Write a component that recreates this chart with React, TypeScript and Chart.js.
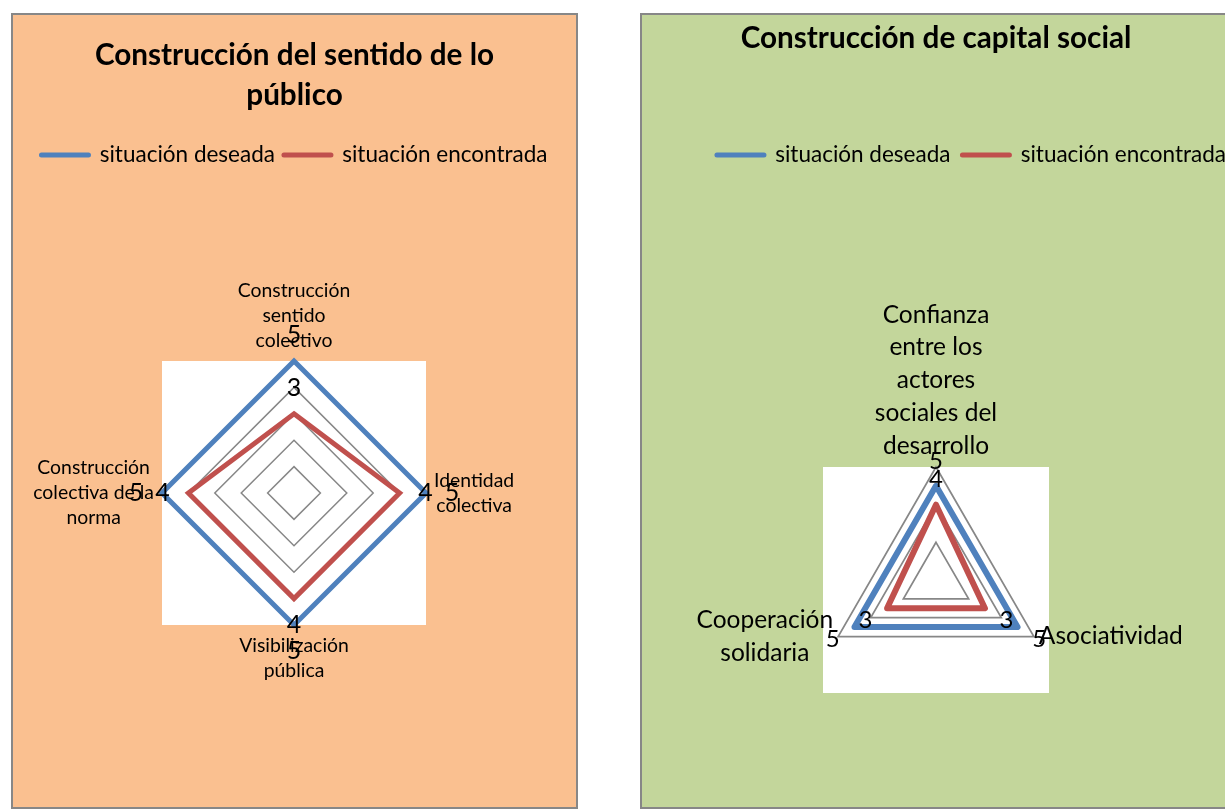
import React, { useEffect, useRef } from "react";
import { Chart, registerables } from "chart.js";

Chart.register(...registerables);

const FONT = "Lato";

const seriesNames = ["situación deseada", "situación encontrada"];
const seriesColors = ["#4F81BD", "#C0504D"];

const leftTitle = ["Construcción del sentido de lo", "público"];
const leftCategories = [
  ["Construcción", "sentido", "colectivo"],
  ["Identidad", "colectiva"],
  ["Visibilización", "pública"],
  ["Construcción", "colectiva de la", "norma"],
];
const leftDeseada = [5, 5, 5, 5];
const leftEncontrada = [3, 4, 4, 4];
const leftMin = 0;
const leftMax = 5;
const leftStep = 1;

const rightTitle = "Construcción de capital social";
const rightCategories = [
  ["Confianza", "entre los", "actores", "sociales del", "desarrollo"],
  ["Asociatividad"],
  ["Cooperación", "solidaria"],
];
const rightDeseada = [5, 5, 5];
const rightEncontrada = [4, 3, 3];
const rightMin = 0;
const rightMax = 6;
const rightStep = 2;

const plotBg = {
  id: "plotBg",
  beforeDraw(chart: any) {
    const s = chart.scales.r;
    const R = s.drawingArea;
    const ctx = chart.ctx;
    ctx.save();
    ctx.fillStyle = "#FFFFFF";
    ctx.fillRect(s.xCenter - R, s.yCenter - R, 2 * R, 2 * R);
    ctx.restore();
  },
};

const axisLabels = {
  id: "axisLabels",
  afterDraw(chart: any, _args: any, opts: any) {
    const s = chart.scales.r;
    const ctx = chart.ctx;
    const labels = chart.data.labels || [];
    ctx.save();
    ctx.font = `${opts.size}px ${FONT}`;
    ctx.fillStyle = "#000";
    ctx.textAlign = "center";
    ctx.textBaseline = "middle";
    const lh = opts.lineHeight;
    const gap = opts.gap;
    labels.forEach((lab: any, i: number) => {
      const lines: string[] = Array.isArray(lab) ? lab : [String(lab)];
      const p = s.getPointPosition(i, s.drawingArea);
      const ang = s.getIndexAngle(i);
      const sn = Math.sin(ang);
      const cs = Math.cos(ang);
      const bw = Math.max(...lines.map((l) => ctx.measureText(l).width));
      const bh = lines.length * lh;
      let cx: number;
      let cy: number;
      if (Math.abs(sn) < 0.1) {
        cx = p.x;
        cy = cs > 0 ? p.y - gap - bh / 2 : p.y + gap + bh / 2;
      } else {
        cy = p.y;
        cx = sn > 0 ? p.x + gap + bw / 2 : p.x - gap - bw / 2;
      }
      lines.forEach((l, k) => {
        ctx.fillText(l, cx, cy - bh / 2 + lh * (k + 0.5));
      });
    });
    ctx.restore();
  },
};

const valueLabels = {
  id: "valueLabels",
  afterDatasetsDraw(chart: any, _args: any, opts: any) {
    const s = chart.scales.r;
    const ctx = chart.ctx;
    ctx.save();
    ctx.font = `${opts.size}px ${FONT}`;
    ctx.fillStyle = "#000";
    ctx.textAlign = "center";
    ctx.textBaseline = "middle";
    chart.data.datasets.forEach((ds: any, di: number) => {
      const meta = chart.getDatasetMeta(di);
      meta.data.forEach((pt: any, i: number) => {
        const dx = pt.x - s.xCenter;
        const dy = pt.y - s.yCenter;
        const len = Math.hypot(dx, dy) || 1;
        ctx.fillText(
          String(ds.data[i]),
          pt.x + (dx / len) * opts.offset,
          pt.y + (dy / len) * opts.offset
        );
      });
    });
    ctx.restore();
  },
};

type Spec = {
  width: number;
  height: number;
  offsetX: number;
  title: string | string[];
  titlePadTop: number;
  titlePadBottom: number;
  legendPadding: number;
  legendAlign: "center" | "end" | "start";
  spacer: number;
  padBottom: number;
  categories: string[][];
  deseada: number[];
  encontrada: number[];
  min: number;
  max: number;
  step: number;
  lineWidth: number;
  join: "miter" | "round";
  gridWidth: number;
  labelSize: number;
  labelLineHeight: number;
  labelGap: number;
  valueSize: number;
  valueOffset: number;
};

const LEGEND_SIZE = 22.5;
const TITLE_SIZE = 29.7;

function RadarPanel({ spec }: { spec: Spec }) {
  const ref = useRef<HTMLCanvasElement | null>(null);
  useEffect(() => {
    if (!ref.current) return;
    const mk = (name: string, data: number[], color: string) => ({
      label: name,
      data,
      borderColor: color,
      backgroundColor: "rgba(0,0,0,0)",
      borderWidth: spec.lineWidth,
      borderJoinStyle: spec.join,
      borderCapStyle: "round",
      pointRadius: 0,
      pointHoverRadius: 0,
      fill: false,
    });
    const defaultGen = (Chart.defaults.plugins.legend.labels as any).generateLabels;
    const chart = new Chart(ref.current, {
      type: "radar",
      data: {
        labels: spec.categories,
        datasets: [
          mk(seriesNames[0], spec.deseada, seriesColors[0]),
          mk(seriesNames[1], spec.encontrada, seriesColors[1]),
        ],
      },
      options: {
        responsive: false,
        animation: false,
        devicePixelRatio: 1,
        layout: { padding: { top: 0, left: 0, right: 0, bottom: spec.padBottom } },
        scales: {
          r: {
            min: spec.min,
            max: spec.max,
            ticks: { stepSize: spec.step, display: false },
            grid: { circular: false, color: "#878787", lineWidth: spec.gridWidth },
            angleLines: { display: false },
            pointLabels: { display: false },
          },
        },
        plugins: {
          title: {
            display: true,
            text: spec.title,
            color: "#000",
            font: { family: FONT, size: TITLE_SIZE, weight: "bold", lineHeight: "40px" },
            padding: { top: spec.titlePadTop, bottom: spec.titlePadBottom },
          },
          subtitle: {
            display: true,
            text: "",
            weight: 500,
            font: { family: FONT, size: 1, lineHeight: "0px" },
            padding: { top: spec.spacer, bottom: 0 },
          },
          legend: {
            display: true,
            position: "top",
            align: spec.legendAlign,
            labels: {
              usePointStyle: true,
              pointStyle: "line",
              pointStyleWidth: 47,
              color: "#000",
              padding: spec.legendPadding,
              font: { family: FONT, size: LEGEND_SIZE },
              generateLabels: (c: any) =>
                defaultGen(c).map((l: any) => ({ ...l, lineCap: "round", lineWidth: 5 })),
            },
          },
          tooltip: { enabled: false },
          axisLabels: {
            size: spec.labelSize,
            lineHeight: spec.labelLineHeight,
            gap: spec.labelGap,
          },
          valueLabels: { size: spec.valueSize, offset: spec.valueOffset },
        } as any,
      },
      plugins: [plotBg, axisLabels, valueLabels],
    } as any);
    return () => chart.destroy();
  }, [spec]);
  return (
    <canvas
      ref={ref}
      width={spec.width}
      height={spec.height}
      style={{
        display: "block",
        width: spec.width,
        height: spec.height,
        marginLeft: spec.offsetX,
      }}
    />
  );
}

// Canvas y of the legend text centre is 140: legendTop + padding + size / 2.
const leftSpec: Spec = {
  width: 563,
  height: 792,
  offsetX: 0,
  title: leftTitle,
  titlePadTop: 20,
  titlePadBottom: 140 - 9 - LEGEND_SIZE / 2 - 100,
  legendPadding: 9,
  legendAlign: "center",
  spacer: 346 - (140 - 9 - LEGEND_SIZE / 2) - (LEGEND_SIZE + 9 + 10),
  padBottom: 182,
  categories: leftCategories,
  deseada: leftDeseada,
  encontrada: leftEncontrada,
  min: leftMin,
  max: leftMax,
  step: leftStep,
  lineWidth: 5,
  join: "miter",
  gridWidth: 1.5,
  labelSize: 19.4,
  labelLineHeight: 25,
  labelGap: 8,
  valueSize: 25,
  valueOffset: 26,
};

const rightSpec: Spec = {
  width: 604,
  height: 792,
  offsetX: -8,
  title: rightTitle,
  titlePadTop: 3,
  titlePadBottom: 140 - 12 - LEGEND_SIZE / 2 - 43,
  legendPadding: 12,
  legendAlign: "end",
  spacer: 452 - (140 - 12 - LEGEND_SIZE / 2) - (LEGEND_SIZE + 12 + 10),
  padBottom: 114,
  categories: rightCategories,
  deseada: rightDeseada,
  encontrada: rightEncontrada,
  min: rightMin,
  max: rightMax,
  step: rightStep,
  lineWidth: 6,
  join: "round",
  gridWidth: 1.75,
  labelSize: 24.5,
  labelLineHeight: 32.75,
  labelGap: 5,
  valueSize: 24,
  valueOffset: 25,
};

export default function App() {
  return (
    <div
      style={{
        position: "absolute",
        left: 0,
        top: 0,
        width: 1225,
        height: 810,
        overflow: "hidden",
        background: "#FFFFFF",
      }}
    >
      <div
        style={{
          position: "absolute",
          left: 11,
          top: 13,
          width: 567,
          height: 796,
          boxSizing: "border-box",
          border: "2px solid #878787",
          background: "#FAC090",
        }}
      >
        <RadarPanel spec={leftSpec} />
      </div>
      <div
        style={{
          position: "absolute",
          left: 640,
          top: 13,
          width: 600,
          height: 796,
          boxSizing: "border-box",
          border: "2px solid #878787",
          background: "#C3D69B",
        }}
      >
        <RadarPanel spec={rightSpec} />
      </div>
    </div>
  );
}
